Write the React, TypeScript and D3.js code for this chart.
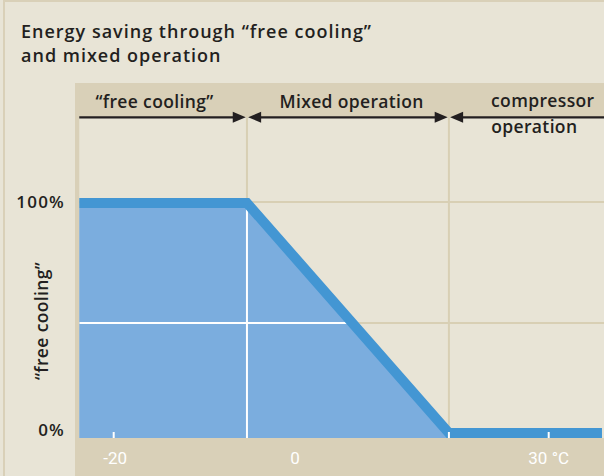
import React from "react";
import * as d3 from "d3";

// ---- data ----
const titleLines = ["Energy saving through “free cooling”", "and mixed operation"];
const phaseNames = ["“free cooling”", "Mixed operation", "compressor", "operation"];
const phaseLabelX = [-15.5, 6.7, 29.3, 28.3]; // °C position of phase label centres
const phaseBreaks = [-5.3, 18.2]; // °C where operation mode changes
const curveTemp = [-23.8, -5.3, 18.2, 36.3]; // °C
const curveShare = [100, 100, 0, 0]; // % free cooling
const xTickValues = [-20, 0, 30];
const xTickLabels = ["-20", "0", "30 °C"];
const xTickMarks = [-20, 30];
const yTickValues = [100, 0];
const yTickLabels = ["100%", "0%"];
const yGridValues = [50];
const yAxisTitle = "“free cooling”";

const W = 604;
const H = 476;
const BG = "#e8e4d6";
const TAN = "#d9d0b8";
const GRID = "#d8cfb4";
const FILL = "#7badde";
const LINE = "#4396d3";
const INK = "#231f20";
const FONT = "'Open Sans', 'Noto Sans', sans-serif";

export default function App() {
  const x = d3.scaleLinear().domain([-20, 0, 30]).range([113.7, 295, 548.7]);
  const y = d3.scaleLinear().domain([0, 100]).range([438, 208]);
  const lineW = 10;

  const pts = curveTemp.map((t, i) => [t, curveShare[i]] as [number, number]);
  const area = d3
    .area<[number, number]>()
    .x((d) => x(d[0]))
    .y0(y(0))
    .y1((d) => y(d[1]));
  const line = d3
    .line<[number, number]>()
    .x((d) => x(d[0]))
    .y((d) => y(d[1]));
  const areaD = area(pts) || "";
  const lineD = line(pts) || "";

  const plotLeft = x(curveTemp[0]);
  const headerTop = 83;
  const arrowY = 117.3;
  const bandLeft = 75;
  const plotBottom = y(0);

  // arrows
  const b1 = x(phaseBreaks[0]);
  const b2 = x(phaseBreaks[1]);
  const gap = 1.2;
  const segs = [
    { a: plotLeft, b: b1 - gap, left: false, right: true },
    { a: b1 + gap, b: b2 - gap, left: true, right: true },
    { a: b2 + gap, b: W, left: true, right: false },
  ];
  const AL = 13;
  const AH = 5.5;

  return (
    <svg
      width={W}
      height={H}
      style={{ position: "absolute", left: 0, top: 0, display: "block" }}
    >
      <defs>
        <clipPath id="fillClip">
          <path d={areaD} />
        </clipPath>
      </defs>
      <rect x={0} y={0} width={W} height={H} fill={BG} />
      <rect x={4} y={1} width={W + 20} height={H + 20} fill="none" stroke={TAN} strokeWidth={2} />

      {/* title */}
      {titleLines.map((t, i) => (
        <text
          key={i}
          x={21}
          y={37.5 + i * 24.5}
          fontFamily={FONT}
          fontWeight={600}
          fontSize={18}
          letterSpacing={1.0}
          fill={INK}
        >
          {t}
        </text>
      ))}

      {/* header band */}
      <rect x={bandLeft} y={headerTop} width={W - bandLeft} height={arrowY - headerTop} fill={TAN} />
      {/* left strip of plot */}
      <rect x={bandLeft} y={headerTop} width={plotLeft - bandLeft} height={H - headerTop} fill={TAN} />
      {/* bottom band */}
      <rect x={bandLeft} y={plotBottom} width={W - bandLeft} height={H - plotBottom} fill={TAN} />

      {/* tan gridlines */}
      {phaseBreaks.map((b, i) => (
        <line key={"v" + i} x1={x(b)} x2={x(b)} y1={arrowY} y2={plotBottom} stroke={GRID} strokeWidth={2} />
      ))}
      {yGridValues.map((v, i) => (
        <line key={"h" + i} x1={plotLeft} x2={W} y1={y(v)} y2={y(v)} stroke={GRID} strokeWidth={2} />
      ))}
      <line x1={plotLeft} x2={W} y1={y(100) - lineW / 2 - 1} y2={y(100) - lineW / 2 - 1} stroke={GRID} strokeWidth={2} />

      {/* fill */}
      <path d={areaD} fill={FILL} />
      <g clipPath="url(#fillClip)">
        {phaseBreaks.map((b, i) => (
          <line key={"wv" + i} x1={x(b)} x2={x(b)} y1={arrowY} y2={plotBottom} stroke="#fff" strokeWidth={2} />
        ))}
        {yGridValues.map((v, i) => (
          <line key={"wh" + i} x1={plotLeft} x2={W} y1={y(v)} y2={y(v)} stroke="#fff" strokeWidth={2} />
        ))}
      </g>

      {/* curve */}
      <path
        d={lineD}
        transform={`translate(0,${-lineW / 2})`}
        fill="none"
        stroke={LINE}
        strokeWidth={lineW}
        strokeLinejoin="miter"
        strokeLinecap="butt"
      />

      {/* white tick marks */}
      {[...xTickMarks, phaseBreaks[1]].map((t, i) => (
        <line key={"t" + i} x1={x(t)} x2={x(t)} y1={plotBottom - 6} y2={plotBottom} stroke="#fff" strokeWidth={2} />
      ))}

      {/* x tick labels */}
      {xTickValues.map((t, i) => (
        <text
          key={"xl" + i}
          x={x(t) + (i === 0 ? 1.5 : 0)}
          y={464}
          textAnchor="middle"
          fontFamily="Roboto, sans-serif"
          fontSize={17}
          fill="#fff"
        >
          {xTickLabels[i]}
        </text>
      ))}

      {/* y tick labels */}
      {yTickValues.map((v, i) => (
        <text
          key={"yl" + i}
          x={65}
          y={v === 0 ? 436 : y(v)}
          textAnchor="end"
          fontFamily={FONT}
          fontWeight={600}
          fontSize={17}
          letterSpacing={1.2}
          fill={INK}
        >
          {yTickLabels[i]}
        </text>
      ))}

      {/* y axis title */}
      <text
        transform={`translate(48,${y(50) - 2}) rotate(-90)`}
        textAnchor="middle"
        fontFamily={FONT}
        fontWeight={600}
        fontSize={17.5}
        letterSpacing={0.35}
        fill={INK}
      >
        {yAxisTitle}
      </text>

      {/* arrows */}
      {segs.map((s, i) => (
        <g key={"a" + i}>
          <line
            x1={s.a + (s.left ? AL - 1 : 0)}
            x2={s.b - (s.right ? AL - 1 : 0)}
            y1={arrowY}
            y2={arrowY}
            stroke={INK}
            strokeWidth={2.2}
          />
          {s.right && (
            <path d={`M${s.b},${arrowY} L${s.b - AL},${arrowY - AH} L${s.b - AL},${arrowY + AH} Z`} fill={INK} />
          )}
          {s.left && (
            <path d={`M${s.a},${arrowY} L${s.a + AL},${arrowY - AH} L${s.a + AL},${arrowY + AH} Z`} fill={INK} />
          )}
        </g>
      ))}

      {/* phase labels */}
      {phaseNames.map((n, i) => (
        <text
          key={"p" + i}
          x={x(phaseLabelX[i])}
          y={i === 3 ? 133.3 : i === 2 ? 106.8 : 108.3}
          textAnchor="middle"
          fontFamily={FONT}
          fontWeight={600}
          fontSize={17.5}
          letterSpacing={0.35}
          fill={INK}
        >
          {n}
        </text>
      ))}
    </svg>
  );
}
